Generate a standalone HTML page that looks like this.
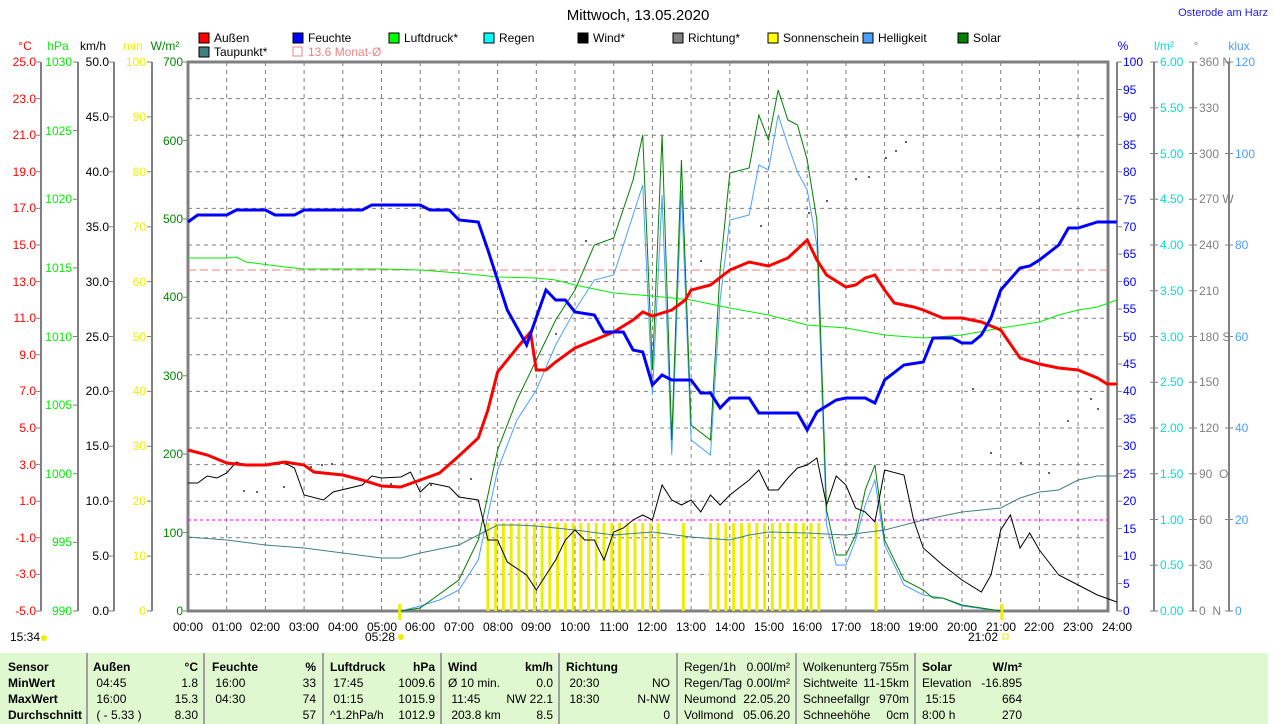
<!DOCTYPE html>
<html><head><meta charset="utf-8"><style>
body{margin:0;background:#fff;width:1274px;height:724px;overflow:hidden;font-family:"Liberation Sans",sans-serif}
svg text{font-family:"Liberation Sans",sans-serif;font-size:12px}
.tb{position:absolute;left:0;top:653px;width:1268px;height:71px;background:#e0f8d0;font-size:12px;color:#000}
.c{position:absolute;top:0;height:71px;border-left:2px solid #a0a0a0}
.r{position:absolute;white-space:nowrap}
</style></head><body>
<svg width="1274" height="653" style="position:absolute;left:0;top:0">
<text x="638" y="20" text-anchor="middle" style="font-size:15px">Mittwoch, 13.05.2020</text>
<text x="1268" y="16" text-anchor="end" fill="#2020e0" style="font-size:11px">Osterode am Harz</text>
<g style="font-size:11px">
<rect x="199" y="33" width="10" height="10" fill="#f00" stroke="#000"/><text x="214" y="42">Außen</text>
<rect x="293" y="33" width="10" height="10" fill="#00f" stroke="#000"/><text x="308" y="42">Feuchte</text>
<rect x="389" y="33" width="10" height="10" fill="#0f0" stroke="#000"/><text x="404" y="42">Luftdruck*</text>
<rect x="484" y="33" width="10" height="10" fill="#0ff" stroke="#000"/><text x="499" y="42">Regen</text>
<rect x="578" y="33" width="10" height="10" fill="#000" stroke="#000"/><text x="593" y="42">Wind*</text>
<rect x="673" y="33" width="10" height="10" fill="#808080" stroke="#000"/><text x="688" y="42">Richtung*</text>
<rect x="768" y="33" width="10" height="10" fill="#ff0" stroke="#000"/><text x="783" y="42">Sonnenschein</text>
<rect x="863" y="33" width="10" height="10" fill="#4aa0ff" stroke="#000"/><text x="878" y="42">Helligkeit</text>
<rect x="958" y="33" width="10" height="10" fill="#008000" stroke="#000"/><text x="973" y="42">Solar</text>
<rect x="199" y="47" width="10" height="10" fill="#408080" stroke="#000"/><text x="214" y="56">Taupunkt*</text>
<rect x="293" y="47" width="9" height="9" fill="none" stroke="#f08080"/><text x="308" y="56" fill="#f08080">13.6 Monat-Ø</text>
</g>
<text x="25" y="50" fill="#f00" text-anchor="middle">°C</text>
<text x="58" y="50" fill="#0e0" text-anchor="middle">hPa</text>
<text x="93" y="50" text-anchor="middle">km/h</text>
<text x="133" y="50" fill="#ee0" text-anchor="middle">min</text>
<text x="165" y="50" fill="#080" text-anchor="middle">W/m²</text>
<text x="1123" y="50" fill="#00f" text-anchor="middle">%</text>
<text x="1164" y="50" fill="#0dd" text-anchor="middle">l/m²</text>
<text x="1196" y="50" fill="#808080" text-anchor="middle">°</text>
<text x="1239" y="50" fill="#4aa0ff" text-anchor="middle">klux</text>
<g stroke="#808080" stroke-dasharray="4,4" stroke-width="1">
<path d="M188 98.6H1108M188 135.2H1108M188 171.8H1108M188 208.4H1108M188 245H1108M188 281.6H1108M188 318.2H1108M188 354.8H1108M188 391.4H1108M188 428H1108M188 464.6H1108M188 501.2H1108M188 537.8H1108M188 574.4H1108"/>
<path d="M226.7 62V611M265.4 62V611M304.1 62V611M342.8 62V611M381.5 62V611M420.2 62V611M458.9 62V611M497.6 62V611M536.3 62V611M575 62V611M613.7 62V611M652.4 62V611M691.1 62V611M729.8 62V611M768.5 62V611M807.2 62V611M845.9 62V611M884.6 62V611M923.3 62V611M962 62V611M1000.7 62V611M1039.4 62V611M1078.1 62V611"/>
</g>
<g stroke="#808080" stroke-width="2" fill="none">
<path d="M41 62V611M78 62V611M114 62V611M152 62V611M1154 62V611M1193 62V611M1229 62V611"/>
</g>
<!-- ticks -->
<g stroke="#808080" fill="none">
<path d="M38.5 61.5V612" stroke-width="5" stroke-dasharray="1 35.6"/>
<path d="M75.5 61.5V612" stroke-width="5" stroke-dasharray="1 67.625"/>
<path d="M111.5 61.5V612" stroke-width="5" stroke-dasharray="1 53.9"/>
<path d="M149.5 61.5V612" stroke-width="5" stroke-dasharray="1 53.9"/>
<path d="M185.5 61.5V612" stroke-width="5" stroke-dasharray="1 77.43"/>
<path d="M1119.5 61.5V612" stroke-width="5" stroke-dasharray="1 26.45"/>
<path d="M1154 61.5V612" stroke-width="8" stroke-dasharray="1 44.75"/>
<path d="M1193 61.5V612" stroke-width="8" stroke-dasharray="1 44.75"/>
<path d="M1229 61.5V612" stroke-width="8" stroke-dasharray="1 90.5"/>
</g>
<rect x="188" y="62" width="920" height="549" fill="none" stroke="#808080" stroke-width="3"/>
<path d="M1117 62V611" stroke="#808080" stroke-width="2"/>
<g fill="#f00" text-anchor="end">
<text x="36" y="66">25.0</text><text x="36" y="103">23.0</text><text x="36" y="139">21.0</text><text x="36" y="176">19.0</text><text x="36" y="212">17.0</text><text x="36" y="249">15.0</text><text x="36" y="286">13.0</text><text x="36" y="322">11.0</text><text x="36" y="359">9.0</text><text x="36" y="395">7.0</text><text x="36" y="432">5.0</text><text x="36" y="469">3.0</text><text x="36" y="505">1.0</text><text x="36" y="542">-1.0</text><text x="36" y="578">-3.0</text><text x="36" y="615">-5.0</text>
</g>
<g fill="#0e0" text-anchor="end">
<text x="72" y="66">1030</text><text x="72" y="135">1025</text><text x="72" y="203">1020</text><text x="72" y="272">1015</text><text x="72" y="341">1010</text><text x="72" y="409">1005</text><text x="72" y="478">1000</text><text x="72" y="546">995</text><text x="72" y="615">990</text>
</g>
<g text-anchor="end">
<text x="109" y="66">50.0</text><text x="109" y="121">45.0</text><text x="109" y="176">40.0</text><text x="109" y="231">35.0</text><text x="109" y="286">30.0</text><text x="109" y="341">25.0</text><text x="109" y="395">20.0</text><text x="109" y="450">15.0</text><text x="109" y="505">10.0</text><text x="109" y="560">5.0</text><text x="109" y="615">0.0</text>
</g>
<g fill="#ee0" text-anchor="end">
<text x="146" y="66">100</text><text x="146" y="121">90</text><text x="146" y="176">80</text><text x="146" y="231">70</text><text x="146" y="286">60</text><text x="146" y="341">50</text><text x="146" y="395">40</text><text x="146" y="450">30</text><text x="146" y="505">20</text><text x="146" y="560">10</text><text x="146" y="615">0</text>
</g>
<g fill="#080" text-anchor="end">
<text x="183" y="66">700</text><text x="183" y="145">600</text><text x="183" y="223">500</text><text x="183" y="301">400</text><text x="183" y="380">300</text><text x="183" y="458">200</text><text x="183" y="537">100</text><text x="183" y="615">0</text>
</g>
<g fill="#00f">
<text x="1123" y="66">100</text><text x="1123" y="94">95</text><text x="1123" y="121">90</text><text x="1123" y="149">85</text><text x="1123" y="176">80</text><text x="1123" y="204">75</text><text x="1123" y="231">70</text><text x="1123" y="258">65</text><text x="1123" y="286">60</text><text x="1123" y="313">55</text><text x="1123" y="341">50</text><text x="1123" y="368">45</text><text x="1123" y="395">40</text><text x="1123" y="423">35</text><text x="1123" y="450">30</text><text x="1123" y="478">25</text><text x="1123" y="505">20</text><text x="1123" y="533">15</text><text x="1123" y="560">10</text><text x="1123" y="588">5</text><text x="1123" y="615">0</text>
</g>
<g fill="#0dd">
<text x="1160" y="66">6.00</text><text x="1160" y="112">5.50</text><text x="1160" y="158">5.00</text><text x="1160" y="203">4.50</text><text x="1160" y="249">4.00</text><text x="1160" y="295">3.50</text><text x="1160" y="341">3.00</text><text x="1160" y="386">2.50</text><text x="1160" y="432">2.00</text><text x="1160" y="478">1.50</text><text x="1160" y="524">1.00</text><text x="1160" y="569">0.50</text><text x="1160" y="615">0.00</text>
</g>
<g fill="#808080">
<text x="1199" y="66">360 N</text><text x="1199" y="112">330</text><text x="1199" y="158">300</text><text x="1199" y="203">270 W</text><text x="1199" y="249">240</text><text x="1199" y="295">210</text><text x="1199" y="341">180 S</text><text x="1199" y="386">150</text><text x="1199" y="432">120</text><text x="1199" y="478">90 &#160;O</text><text x="1199" y="524">60</text><text x="1199" y="569">30</text><text x="1199" y="615">0 &#160;N</text>
</g>
<g fill="#4aa0ff">
<text x="1235" y="66">120</text><text x="1235" y="158">100</text><text x="1235" y="249">80</text><text x="1235" y="341">60</text><text x="1235" y="432">40</text><text x="1235" y="524">20</text><text x="1235" y="615">0</text>
</g>
<g text-anchor="middle">
<text x="188" y="631">00:00</text><text x="227" y="631">01:00</text><text x="265" y="631">02:00</text><text x="304" y="631">03:00</text><text x="343" y="631">04:00</text><text x="382" y="631">05:00</text><text x="420" y="631">06:00</text><text x="459" y="631">07:00</text><text x="498" y="631">08:00</text><text x="536" y="631">09:00</text><text x="575" y="631">10:00</text><text x="614" y="631">11:00</text><text x="652" y="631">12:00</text><text x="691" y="631">13:00</text><text x="730" y="631">14:00</text><text x="769" y="631">15:00</text><text x="807" y="631">16:00</text><text x="846" y="631">17:00</text><text x="885" y="631">18:00</text><text x="923" y="631">19:00</text><text x="962" y="631">20:00</text><text x="1001" y="631">21:00</text><text x="1039" y="631">22:00</text><text x="1078" y="631">23:00</text><text x="1117" y="631">24:00</text>
<text x="380" y="641">05:28</text><text x="983" y="641">21:02</text>
</g>
<text x="10" y="641">15:34</text>
<circle cx="44" cy="638" r="3" fill="#ee0"/><circle cx="401" cy="637" r="3" fill="#ee0"/><rect x="1003" y="634" width="5" height="5" fill="none" stroke="#ee0"/>
<path d="M188 270H1108" stroke="#f08080" stroke-dasharray="8,4"/>
<path d="M188 520H1108" stroke="#f0f" stroke-dasharray="3,3"/>
<!-- direction dots -->
<g fill="#606060">
<rect x="243" y="490" width="2" height="2"/><rect x="256" y="491" width="2" height="2"/><rect x="283" y="486" width="2" height="2"/><rect x="310" y="466" width="2" height="2"/><rect x="321" y="464" width="2" height="2"/><rect x="331" y="463" width="2" height="2"/><rect x="390" y="483" width="2" height="2"/><rect x="430" y="484" width="2" height="2"/><rect x="470" y="478" width="2" height="2"/><rect x="555" y="333" width="2" height="2"/><rect x="585" y="240" width="2" height="2"/><rect x="700" y="260" width="2" height="2"/><rect x="760" y="225" width="2" height="2"/><rect x="808" y="212" width="2" height="2"/><rect x="826" y="200" width="2" height="2"/><rect x="855" y="178" width="2" height="2"/><rect x="868" y="176" width="2" height="2"/><rect x="885" y="157" width="2" height="2"/><rect x="895" y="150" width="2" height="2"/><rect x="905" y="141" width="2" height="2"/><rect x="972" y="388" width="2" height="2"/><rect x="990" y="452" width="2" height="2"/><rect x="1020" y="462" width="2" height="2"/><rect x="1048" y="472" width="2" height="2"/><rect x="1067" y="420" width="2" height="2"/><rect x="1090" y="398" width="2" height="2"/><rect x="1097" y="408" width="2" height="2"/>
</g>
<g transform="translate(188,0) scale(38.7,1)" fill="none">
<path vector-effect="non-scaling-stroke" stroke="#ee0" stroke-width="3" d="M7.75 523V611M7.95 523V611M8.15 523V611M8.35 523V611M8.55 523V611M8.75 523V611M8.95 523V611M9.15 523V611M9.35 523V611M9.55 523V611M9.75 523V611M9.95 523V611M10.15 523V611M10.35 523V611M10.55 523V611M10.75 523V611M10.95 523V611M11.15 523V611M11.35 523V611M11.55 523V611M11.75 523V611M11.95 523V611M12.15 523V611M12.8 523V611M13.5 523V611M13.7 523V611M13.9 523V611M14.1 523V611M14.3 523V611M14.5 523V611M14.7 523V611M14.9 523V611M15.1 523V611M15.3 523V611M15.5 523V611M15.7 523V611M15.9 523V611M16.1 523V611M16.3 523V611M17.78 523V611M5.47 604V620M21.03 604V620"/>
<polyline vector-effect="non-scaling-stroke" stroke="#4aa0ff" stroke-width="1" points="5.5,611 6,606 6.5,600 7,590 7.5,560 8,470 8.5,420 9,390 9.5,345 10,310 10.5,280 11,275 11.5,215 11.75,185 12,395 12.25,195 12.5,455 12.75,190 13,440 13.5,455 13.75,300 14,220 14.5,215 14.75,165 15,170 15.25,115 15.5,145 15.75,172 16,190 16.25,245 16.5,525 16.75,565 17,565 17.25,540 17.5,505 17.75,480 18,545 18.5,585 19,595 19.5,598 20,606 21,611"/>
<polyline vector-effect="non-scaling-stroke" stroke="#008000" stroke-width="1" points="5.5,611 6,608 7,580 7.5,540 8,450 8.5,400 9,360 9.5,320 10,290 10.5,245 11,238 11.5,180 11.75,135 12,370 12.25,135 12.5,440 12.75,160 13,425 13.5,440 13.75,270 14,173 14.5,168 14.75,115 15,140 15.25,90 15.5,120 15.75,125 16,160 16.25,220 16.5,510 16.75,555 17,555 17.25,535 17.5,490 17.75,465 18,540 18.5,580 19,590 19.25,598 19.5,598 20,605 21,611"/>
<polyline vector-effect="non-scaling-stroke" stroke="#408080" stroke-width="1" points="0,537 1,540 2,545 3,548 4,553 5,558 5.5,558 6,553 7,545 7.5,535 8,525 8.5,525 9,526 10,530 11,535 12,532 13,537 14,540 14.5,535 15,532 16,533 17,535 18,530 19,520 20,512 21,508 21.5,498 22,492 22.5,490 23,480 23.5,476 24,476"/>
<polyline vector-effect="non-scaling-stroke" stroke="#0e0" stroke-width="1" points="0,258 1,258 1.25,257 1.5,262 2.5,267 3,269 5,269 6,270 7,273 8,277 9,278 9.5,280 10,285 11,293 12,296 13,300 14,308 15,315 16,325 17,328 18,335 19,338 20,335 21,328 22,322 22.5,315 23,310 23.5,307 24,300"/>
<polyline vector-effect="non-scaling-stroke" stroke="#000" stroke-width="1" points="0,483 0.25,483 0.5,476 0.75,478 1,473 1.25,462 1.5,466 2,466 2.5,463 2.75,468 3,495 3.5,500 3.75,492 4.5,485 4.75,476 5,478 5.5,477 5.75,472 6,492 6.25,483 6.75,487 7,497 7.5,500 7.75,540 8,540 8.25,562 8.75,575 9,590 9.5,560 9.75,540 10,530 10.25,540 10.5,540 10.75,560 11,532 11.25,528 11.5,520 11.75,515 12,520 12.25,485 12.5,500 12.75,505 13,500 13.25,512 13.5,495 13.75,505 14,495 14.5,480 14.75,470 15,490 15.25,490 15.5,478 15.75,468 16,465 16.25,458 16.5,505 16.75,476 17,485 17.25,508 17.5,512 17.75,522 18,470 18.5,475 18.75,520 19,548 19.5,565 20,580 20.5,592 20.75,575 21,530 21.25,515 21.5,548 21.75,533 22,550 22.5,575 23,585 23.5,595 24,602"/>
<polyline vector-effect="non-scaling-stroke" stroke="#f00" stroke-width="3" points="0,450 0.5,455 1,463 1.5,465 2,465 2.5,462 3,465 3.25,472 4,475 4.5,480 5,486 5.5,487 6,480 6.5,473 7,456 7.5,438 7.75,410 8,372 8.5,348 8.85,332 9,370 9.25,370 9.5,362 10,348 10.5,340 11,332 11.5,320 11.75,312 12,316 12.5,310 12.85,300 13,290 13.5,285 14,270 14.5,262 15,266 15.25,262 15.5,258 16,240 16.25,260 16.5,275 17,287 17.25,285 17.5,278 17.75,275 18,290 18.25,303 18.75,307 19,310 19.5,318 20,318 20.5,322 21,330 21.5,358 22,364 22.5,368 23,370 23.5,378 23.75,384 24,384"/>
<polyline vector-effect="non-scaling-stroke" stroke="#00f" stroke-width="3" points="0,222 0.25,215 1,215 1.25,210 2,210 2.25,215 2.75,215 3,210 4.5,210 4.75,205 6,205 6.25,210 6.75,210 7,220 7.5,222 7.75,250 8.25,310 8.75,345 9.25,290 9.5,300 9.75,300 10,312 10.5,315 10.75,332 11.25,332 11.5,350 11.75,352 12,385 12.25,375 12.5,380 13,380 13.25,393 13.5,393 13.75,408 14,398 14.5,398 14.75,413 15.75,413 16,430 16.25,412 16.75,400 17,398 17.5,398 17.75,403 18,380 18.5,365 19,362 19.25,338 19.75,338 20,343 20.25,343 20.5,335 20.75,318 21,290 21.5,268 21.75,266 22,260 22.5,245 22.75,228 23,228 23.5,222 24,222"/>
</g>
</svg>
<div class="tb">
<div class="c" style="left:86px"></div><div class="c" style="left:203px"></div><div class="c" style="left:322px"></div><div class="c" style="left:440px"></div><div class="c" style="left:558px"></div><div class="c" style="left:676px"></div><div class="c" style="left:795px"></div><div class="c" style="left:914px"></div>
<div class="r" style="left:8px;top:6px;font-weight:bold;line-height:16px">Sensor<br>MinWert<br>MaxWert<br>Durchschnitt</div>
<div class="r" style="left:93px;top:6px;line-height:16px"><b>Außen</b><br>&nbsp;04:45<br>&nbsp;16:00<br>&nbsp;( - 5.33 )</div>
<div class="r" style="left:160px;top:6px;line-height:16px;text-align:right;width:38px"><b>°C</b><br>1.8<br>15.3<br>8.30</div>
<div class="r" style="left:212px;top:6px;line-height:16px"><b>Feuchte</b><br>&nbsp;16:00<br>&nbsp;04:30</div>
<div class="r" style="left:280px;top:6px;line-height:16px;text-align:right;width:36px"><b>%</b><br>33<br>74<br>57</div>
<div class="r" style="left:330px;top:6px;line-height:16px"><b>Luftdruck</b><br>&nbsp;17:45<br>&nbsp;01:15<br>^1.2hPa/h</div>
<div class="r" style="left:390px;top:6px;line-height:16px;text-align:right;width:45px"><b>hPa</b><br>1009.6<br>1015.9<br>1012.9</div>
<div class="r" style="left:448px;top:6px;line-height:16px"><b>Wind</b><br>Ø 10 min.<br>&nbsp;11:45<br>&nbsp;203.8 km</div>
<div class="r" style="left:500px;top:6px;line-height:16px;text-align:right;width:53px"><b>km/h</b><br>0.0<br>NW 22.1<br>8.5</div>
<div class="r" style="left:566px;top:6px;line-height:16px"><b>Richtung</b><br>&nbsp;20:30<br>&nbsp;18:30</div>
<div class="r" style="left:630px;top:6px;line-height:16px;text-align:right;width:40px">&nbsp;<br>NO<br>N-NW<br>0</div>
<div class="r" style="left:684px;top:6px;line-height:16px">Regen/1h<br>Regen/Tag<br>Neumond<br>Vollmond</div>
<div class="r" style="left:740px;top:6px;line-height:16px;text-align:right;width:50px">0.00l/m²<br>0.00l/m²<br>22.05.20<br>05.06.20</div>
<div class="r" style="left:803px;top:6px;line-height:16px">Wolkenunterg<br>Sichtweite<br>Schneefallgr<br>Schneehöhe</div>
<div class="r" style="left:860px;top:6px;line-height:16px;text-align:right;width:49px">755m<br>11-15km<br>970m<br>0cm</div>
<div class="r" style="left:922px;top:6px;line-height:16px"><b>Solar</b><br>Elevation<br>&nbsp;15:15<br>8:00 h</div>
<div class="r" style="left:960px;top:6px;line-height:16px;text-align:right;width:62px"><b>W/m²</b><br>-16.895<br>664<br>270</div>
</div>
</body></html>
